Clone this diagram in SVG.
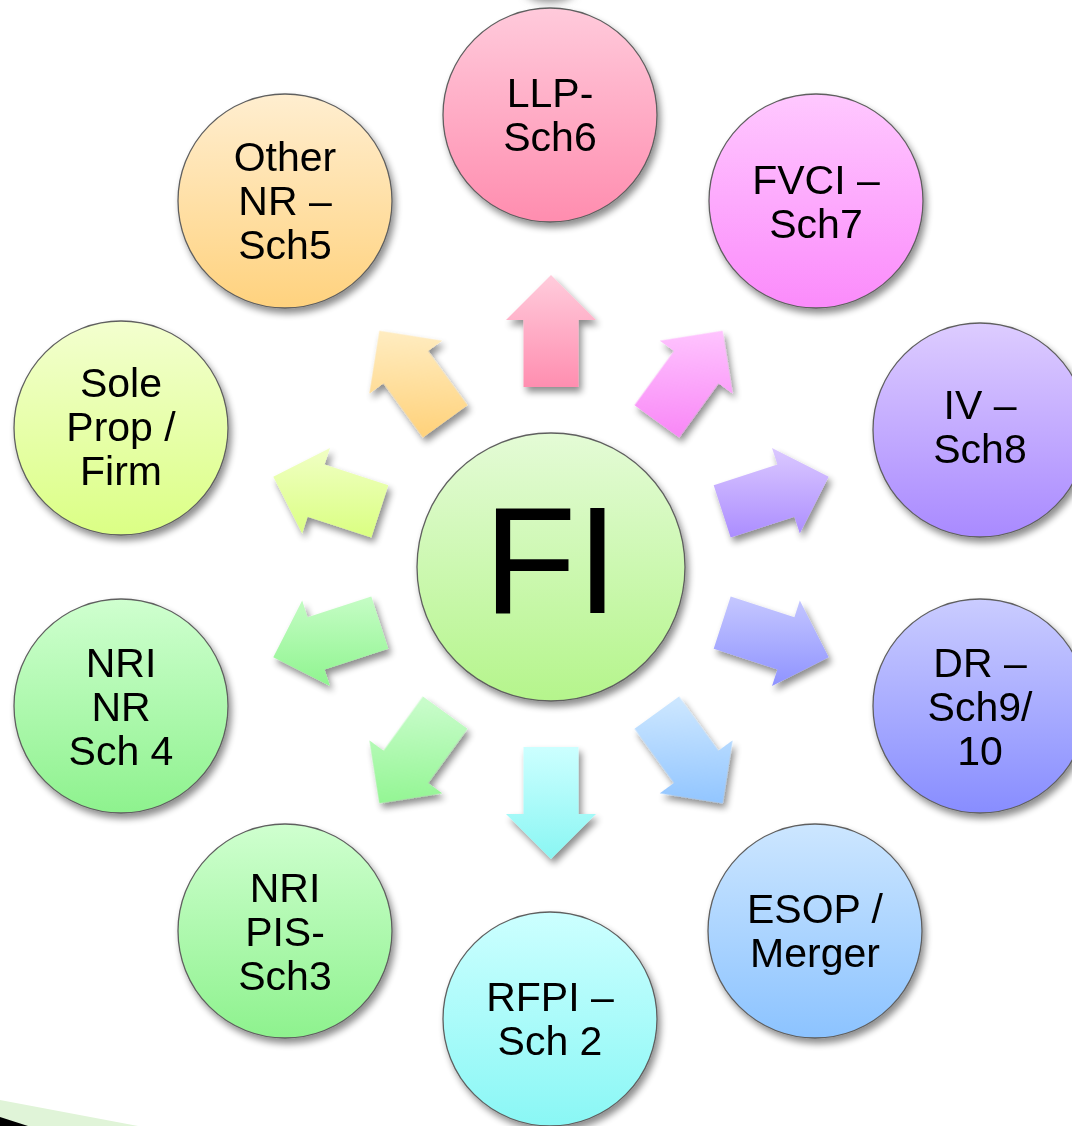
<svg xmlns="http://www.w3.org/2000/svg" xmlns:xlink="http://www.w3.org/1999/xlink" width="1072" height="1126" viewBox="0 0 1072 1126">
  <defs>
    <style>
      .ring { stroke: #5f5f5f; stroke-width: 1.3; }
      .lbl { font-family: "Liberation Sans", Arial, sans-serif; font-size: 41px; fill: #000; text-anchor: middle; }
      .hub { font-family: "Liberation Sans", Arial, sans-serif; font-size: 152px; fill: #000; text-anchor: middle; }
    </style>
    <filter id="sh" x="-20%" y="-20%" width="150%" height="150%">
      <feGaussianBlur in="SourceAlpha" stdDeviation="3.5"/>
      <feOffset dx="3" dy="5" result="b"/>
      <feComponentTransfer><feFuncA type="linear" slope="0.45"/></feComponentTransfer>
      <feMerge><feMergeNode/><feMergeNode in="SourceGraphic"/></feMerge>
    </filter>
    <filter id="soft" x="-50%" y="-50%" width="200%" height="200%">
      <feGaussianBlur stdDeviation="4"/>
    </filter>

    <!-- circle fills, light at the top, darker at the bottom -->
    <linearGradient id="cHub" x1="0" y1="0" x2="0" y2="1"><stop offset="0" stop-color="#E4FBD6"/><stop offset="1" stop-color="#B5F58C"/></linearGradient>
    <linearGradient id="c0" x1="0" y1="0" x2="0" y2="1"><stop offset="0" stop-color="#FFCADB"/><stop offset="1" stop-color="#FF8DAF"/></linearGradient>
    <linearGradient id="c1" x1="0" y1="0" x2="0" y2="1"><stop offset="0" stop-color="#FFC8FF"/><stop offset="1" stop-color="#FB8BFB"/></linearGradient>
    <linearGradient id="c2" x1="0" y1="0" x2="0" y2="1"><stop offset="0" stop-color="#DDCCFF"/><stop offset="1" stop-color="#A98AFF"/></linearGradient>
    <linearGradient id="c3" x1="0" y1="0" x2="0" y2="1"><stop offset="0" stop-color="#CACCFF"/><stop offset="1" stop-color="#888DFF"/></linearGradient>
    <linearGradient id="c4" x1="0" y1="0" x2="0" y2="1"><stop offset="0" stop-color="#CCE6FF"/><stop offset="1" stop-color="#8CC3FF"/></linearGradient>
    <linearGradient id="c5" x1="0" y1="0" x2="0" y2="1"><stop offset="0" stop-color="#CCFFFF"/><stop offset="1" stop-color="#8AF7F5"/></linearGradient>
    <linearGradient id="c6" x1="0" y1="0" x2="0" y2="1"><stop offset="0" stop-color="#CFFFCF"/><stop offset="1" stop-color="#8EF28E"/></linearGradient>
    <linearGradient id="c7" x1="0" y1="0" x2="0" y2="1"><stop offset="0" stop-color="#CFFFCF"/><stop offset="1" stop-color="#8EF28E"/></linearGradient>
    <linearGradient id="c8" x1="0" y1="0" x2="0" y2="1"><stop offset="0" stop-color="#F3FFCF"/><stop offset="1" stop-color="#DBFF85"/></linearGradient>
    <linearGradient id="c9" x1="0" y1="0" x2="0" y2="1"><stop offset="0" stop-color="#FFEED0"/><stop offset="1" stop-color="#FFD27E"/></linearGradient>

    <!-- block arrow pointing up; copies are turned about the hub centre -->
    <path id="arr" d="M523.5,387 V320 H506 L551,275 L596,320 H578.5 V387 Z"/>

    <!-- arrow fills: counter-rotated so the shading stays vertical on screen -->
    <linearGradient id="a0" gradientUnits="userSpaceOnUse" x1="551" y1="275" x2="551" y2="387" gradientTransform="rotate(0 551 567)"><stop offset="0" stop-color="#FFCCDC"/><stop offset="1" stop-color="#FF8EB0"/></linearGradient>
    <linearGradient id="a1" gradientUnits="userSpaceOnUse" x1="551" y1="320" x2="551" y2="432" gradientTransform="rotate(-36 551 567)"><stop offset="0" stop-color="#FFCAFF"/><stop offset="1" stop-color="#F98AF7"/></linearGradient>
    <linearGradient id="a2" gradientUnits="userSpaceOnUse" x1="551" y1="446" x2="551" y2="542" gradientTransform="rotate(-72 551 567)"><stop offset="0" stop-color="#DCCAFF"/><stop offset="1" stop-color="#A98AFF"/></linearGradient>
    <linearGradient id="a3" gradientUnits="userSpaceOnUse" x1="551" y1="592" x2="551" y2="688" gradientTransform="rotate(-108 551 567)"><stop offset="0" stop-color="#C8CAFF"/><stop offset="1" stop-color="#8E92FF"/></linearGradient>
    <linearGradient id="a4" gradientUnits="userSpaceOnUse" x1="551" y1="702" x2="551" y2="814" gradientTransform="rotate(-144 551 567)"><stop offset="0" stop-color="#CBE6FF"/><stop offset="1" stop-color="#8CC2FF"/></linearGradient>
    <linearGradient id="a5" gradientUnits="userSpaceOnUse" x1="551" y1="747" x2="551" y2="859" gradientTransform="rotate(-180 551 567)"><stop offset="0" stop-color="#CCFFFF"/><stop offset="1" stop-color="#8AF6F3"/></linearGradient>
    <linearGradient id="a6" gradientUnits="userSpaceOnUse" x1="551" y1="702" x2="551" y2="814" gradientTransform="rotate(-216 551 567)"><stop offset="0" stop-color="#C8FCCA"/><stop offset="1" stop-color="#8EF58E"/></linearGradient>
    <linearGradient id="a7" gradientUnits="userSpaceOnUse" x1="551" y1="592" x2="551" y2="688" gradientTransform="rotate(-252 551 567)"><stop offset="0" stop-color="#C8FDC8"/><stop offset="1" stop-color="#8EF48E"/></linearGradient>
    <linearGradient id="a8" gradientUnits="userSpaceOnUse" x1="551" y1="446" x2="551" y2="542" gradientTransform="rotate(-288 551 567)"><stop offset="0" stop-color="#F1FFC6"/><stop offset="1" stop-color="#D9FF7E"/></linearGradient>
    <linearGradient id="a9" gradientUnits="userSpaceOnUse" x1="551" y1="320" x2="551" y2="432" gradientTransform="rotate(-324 551 567)"><stop offset="0" stop-color="#FFEFC8"/><stop offset="1" stop-color="#FFD37E"/></linearGradient>
  </defs>

  <rect width="1072" height="1126" fill="#ffffff"/>

  <!-- faint shadow falling in from above the top edge -->
  <ellipse cx="550" cy="-8" rx="24" ry="10" fill="#8a8a8a" filter="url(#soft)"/>

  <!-- slide corner decoration -->
  <polygon points="0,1100 138,1126 0,1126" fill="#E0F4D8"/>
  <polygon points="0,1117 28,1126 0,1126" fill="#000000"/>

  <!-- arrows radiating from the hub -->
  <g id="connectors" filter="url(#sh)">
    <use xlink:href="#arr" href="#arr" fill="url(#a0)" transform="rotate(0 551 567)"/>
    <use xlink:href="#arr" href="#arr" fill="url(#a1)" transform="rotate(36 551 567)"/>
    <use xlink:href="#arr" href="#arr" fill="url(#a2)" transform="rotate(72 551 567)"/>
    <use xlink:href="#arr" href="#arr" fill="url(#a3)" transform="rotate(108 551 567)"/>
    <use xlink:href="#arr" href="#arr" fill="url(#a4)" transform="rotate(144 551 567)"/>
    <use xlink:href="#arr" href="#arr" fill="url(#a5)" transform="rotate(180 551 567)"/>
    <use xlink:href="#arr" href="#arr" fill="url(#a6)" transform="rotate(216 551 567)"/>
    <use xlink:href="#arr" href="#arr" fill="url(#a7)" transform="rotate(252 551 567)"/>
    <use xlink:href="#arr" href="#arr" fill="url(#a8)" transform="rotate(288 551 567)"/>
    <use xlink:href="#arr" href="#arr" fill="url(#a9)" transform="rotate(324 551 567)"/>
  </g>

  <!-- hub -->
  <g id="node-fi" filter="url(#sh)">
    <circle class="ring" cx="551" cy="567" r="134" fill="url(#cHub)"/>
    <text class="hub" x="551" y="613">FI</text>
  </g>

  <!-- outer nodes -->
  <g id="node-llp" filter="url(#sh)">
    <circle class="ring" cx="550" cy="115" r="107" fill="url(#c0)"/>
    <text class="lbl" x="550" y="107">LLP-</text>
    <text class="lbl" x="550" y="151">Sch6</text>
  </g>
  <g id="node-fvci" filter="url(#sh)">
    <circle class="ring" cx="816" cy="201" r="107" fill="url(#c1)"/>
    <text class="lbl" x="816" y="194">FVCI –</text>
    <text class="lbl" x="816" y="238">Sch7</text>
  </g>
  <g id="node-iv" filter="url(#sh)">
    <circle class="ring" cx="980" cy="430" r="107" fill="url(#c2)"/>
    <text class="lbl" x="980" y="419">IV –</text>
    <text class="lbl" x="980" y="463">Sch8</text>
  </g>
  <g id="node-dr" filter="url(#sh)">
    <circle class="ring" cx="980" cy="706" r="107" fill="url(#c3)"/>
    <text class="lbl" x="980" y="677">DR –</text>
    <text class="lbl" x="980" y="721">Sch9/</text>
    <text class="lbl" x="980" y="765">10</text>
  </g>
  <g id="node-esop" filter="url(#sh)">
    <circle class="ring" cx="815" cy="931" r="107" fill="url(#c4)"/>
    <text class="lbl" x="815" y="923">ESOP /</text>
    <text class="lbl" x="815" y="967">Merger</text>
  </g>
  <g id="node-rfpi" filter="url(#sh)">
    <circle class="ring" cx="550" cy="1019" r="107" fill="url(#c5)"/>
    <text class="lbl" x="550" y="1011">RFPI –</text>
    <text class="lbl" x="550" y="1055">Sch 2</text>
  </g>
  <g id="node-nri-pis" filter="url(#sh)">
    <circle class="ring" cx="285" cy="931" r="107" fill="url(#c6)"/>
    <text class="lbl" x="285" y="902">NRI</text>
    <text class="lbl" x="285" y="946">PIS-</text>
    <text class="lbl" x="285" y="990">Sch3</text>
  </g>
  <g id="node-nri-nr" filter="url(#sh)">
    <circle class="ring" cx="121" cy="706" r="107" fill="url(#c7)"/>
    <text class="lbl" x="121" y="677">NRI</text>
    <text class="lbl" x="121" y="721">NR</text>
    <text class="lbl" x="121" y="765">Sch 4</text>
  </g>
  <g id="node-sole-prop" filter="url(#sh)">
    <circle class="ring" cx="121" cy="428" r="107" fill="url(#c8)"/>
    <text class="lbl" x="121" y="397">Sole</text>
    <text class="lbl" x="121" y="441">Prop /</text>
    <text class="lbl" x="121" y="485">Firm</text>
  </g>
  <g id="node-other-nr" filter="url(#sh)">
    <circle class="ring" cx="285" cy="201" r="107" fill="url(#c9)"/>
    <text class="lbl" x="285" y="171">Other</text>
    <text class="lbl" x="285" y="215">NR –</text>
    <text class="lbl" x="285" y="259">Sch5</text>
  </g>
</svg>
